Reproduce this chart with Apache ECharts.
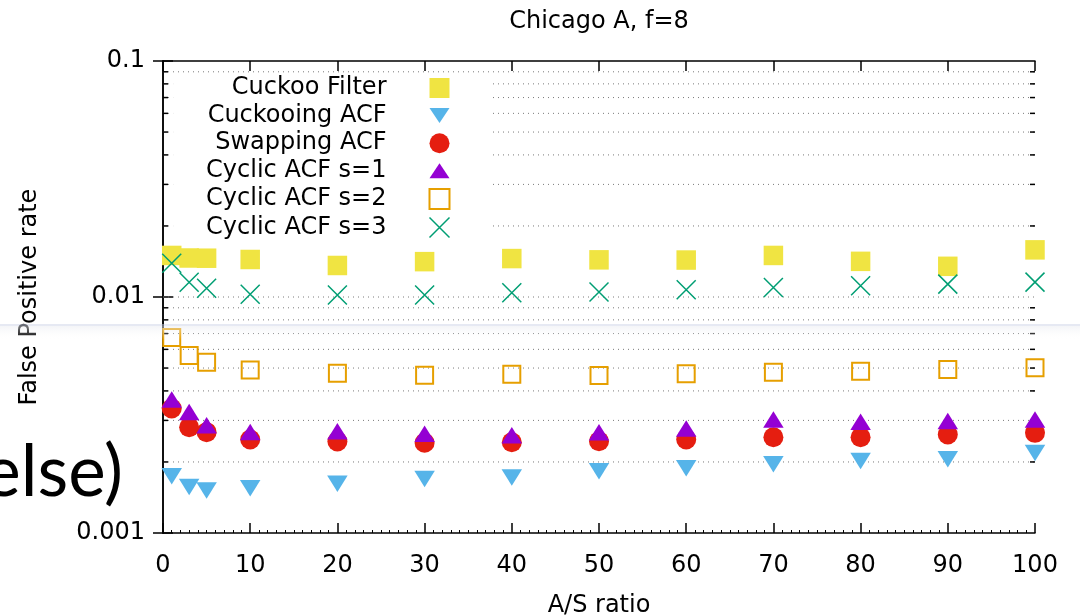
<!DOCTYPE html>
<html><head><meta charset="utf-8">
<script src="https://cdn.jsdelivr.net/npm/echarts@6/dist/echarts.min.js"></script>
<style>html,body{margin:0;padding:0;background:#fff}#c{width:1080px;height:616px}</style>
</head><body><div id="c"></div>
<script>
// ---- data ----
const xValues = [1, 3, 5, 10, 20, 30, 40, 50, 60, 70, 80, 90, 100];
const cuckooFilter = [0.0150, 0.01463, 0.0146, 0.01442, 0.0136, 0.01412, 0.01455, 0.01437, 0.01434, 0.0150, 0.01416, 0.01349, 0.01584];
const cuckooingACF = [0.001785, 0.001608, 0.001555, 0.001588, 0.001661, 0.001737, 0.001765, 0.001874, 0.001930, 0.002007, 0.002074, 0.002107, 0.002243];
const swappingACF = [0.003369, 0.002807, 0.002674, 0.002489, 0.002441, 0.002411, 0.002425, 0.002449, 0.002489, 0.002545, 0.002545, 0.002614, 0.002658];
const cyclicS1 = [0.003587, 0.003171, 0.002785, 0.002609, 0.002627, 0.002568, 0.002526, 0.002602, 0.002697, 0.002951, 0.002885, 0.002902, 0.002951];
const cyclicS2 = [0.00674, 0.00565, 0.00529, 0.0049, 0.00475, 0.00466, 0.00471, 0.00465, 0.00473, 0.0048, 0.00485, 0.00493, 0.00501];
const cyclicS3 = [0.0139, 0.01155, 0.01089, 0.01027, 0.0102, 0.0102, 0.01042, 0.0105, 0.01074, 0.01097, 0.01115, 0.01134, 0.01156];
const seriesNames = ['Cuckoo Filter', 'Cuckooing ACF', 'Swapping ACF', 'Cyclic ACF s=1', 'Cyclic ACF s=2', 'Cyclic ACF s=3'];
const yMinorTicks = [0.002, 0.003, 0.004, 0.005, 0.006, 0.007, 0.008, 0.009, 0.02, 0.03, 0.04, 0.05, 0.06, 0.07, 0.08, 0.09];
const yMajorGrid = [0.01];
const titleText = 'Chicago A, f=8';
const xName = 'A/S ratio';
const yName = 'False Positive rate';

// ---- styling ----
const FONT = 'DejaVu Sans';
const colors = ['#f0e442', '#56b4e9', '#e51e10', '#9400d3', '#e69f00', '#009e73'];
const X_PATH = 'path://M0,0L10,10M10,0L0,10';
const TRI_UP = 'path://M10,0L20,15L0,15Z';
const TRI_DOWN = 'path://M0,0L20,0L10,15Z';
const txt = {fontFamily: FONT, fontSize: 24, color: '#000'};

const pairs = arr => xValues.map((x, i) => [x, arr[i]]);
const gridData = yMinorTicks.map(v => [0, v, 1]).concat(yMajorGrid.map(v => [0, v, 0]));

const chart = echarts.init(document.getElementById('c'), null, {renderer: 'canvas'});
const axisLine = {show: true, lineStyle: {color: '#000', width: 1.5}};
const tick = {show: true, inside: true, length: 10, lineStyle: {color: '#000', width: 1.5}};

chart.setOption({
  animation: false,
  backgroundColor: '#fff',
  title: {text: titleText, left: 599, top: 10, textAlign: 'center', padding: 0,
    textStyle: {fontFamily: FONT, fontSize: 24, fontWeight: 'normal', color: '#000'}},
  grid: {left: 163, right: 45, top: 61, bottom: 83, containLabel: false, outerBoundsMode: 'none'},
  legend: {
    orient: 'vertical', align: 'right', right: 590, top: 74,
    padding: [2, 38, 5, 33], backgroundColor: '#fff',
    itemWidth: 20, itemHeight: 20, itemGap: 3.6, selectedMode: false,
    formatter: n => '{a|' + n + '}',
    textStyle: {rich: {a: {fontFamily: FONT, fontSize: 24, color: '#000', lineHeight: 20, padding: [0, 38, 0, 0]}}},
    data: [
      {name: seriesNames[0], icon: 'rect'},
      {name: seriesNames[1], icon: TRI_DOWN},
      {name: seriesNames[2], icon: 'circle'},
      {name: seriesNames[3], icon: TRI_UP},
      {name: seriesNames[4], icon: 'rect', itemStyle: {color: 'none', borderColor: colors[4], borderWidth: 2}},
      {name: seriesNames[5], icon: X_PATH, itemStyle: {color: 'none', borderColor: colors[5], borderWidth: 1.5}}
    ]
  },
  xAxis: [
    {type: 'value', min: 0, max: 100, interval: 10, position: 'bottom',
      axisLine: axisLine, axisTick: tick,
      minorTick: {show: true, splitNumber: 10, length: 3, lineStyle: {color: '#000', width: 1}},
      axisLabel: Object.assign({margin: 21}, txt), splitLine: {show: false},
      name: xName, nameLocation: 'middle', nameGap: 61, nameTextStyle: txt},
    {type: 'value', min: 0, max: 100, interval: 10, position: 'top',
      axisLine: axisLine, axisTick: tick, axisLabel: {show: false}, splitLine: {show: false}}
  ],
  yAxis: [
    {type: 'log', logBase: 10, min: 0.001, max: 0.1, position: 'left',
      axisLine: axisLine, axisTick: tick,
      axisLabel: Object.assign({margin: 18}, txt), splitLine: {show: false},
      name: yName, nameLocation: 'middle', nameGap: 121, nameRotate: 90, nameTextStyle: txt},
    {type: 'log', logBase: 10, min: 0.001, max: 0.1, position: 'right',
      axisLine: axisLine, axisTick: tick, axisLabel: {show: false}, splitLine: {show: false}}
  ],
  series: [
    {type: 'custom', name: 'grid', z: 1, silent: true, clip: false,
      encode: {x: 0, y: 1}, data: gridData,
      renderItem: (params, api) => {
        const v = api.value(1);
        const a = api.coord([0, v]);
        const b = api.coord([100, v]);
        const children = [{type: 'line', shape: {x1: a[0], y1: a[1], x2: b[0], y2: b[1]},
          style: {stroke: '#7a7a7a', lineWidth: 1, lineDash: [1, 4]}}];
        if (api.value(2) === 1) {
          children.push({type: 'line', shape: {x1: a[0], y1: a[1], x2: a[0] + 5, y2: a[1]}, style: {stroke: '#000', lineWidth: 1.5}});
          children.push({type: 'line', shape: {x1: b[0] - 5, y1: b[1], x2: b[0], y2: b[1]}, style: {stroke: '#000', lineWidth: 1.5}});
        }
        return {type: 'group', children: children};
      }},
    {type: 'scatter', name: seriesNames[0], z: 2, data: pairs(cuckooFilter),
      symbol: 'rect', symbolSize: 19.5, itemStyle: {color: colors[0], opacity: 1}},
    {type: 'scatter', name: seriesNames[1], z: 2, data: pairs(cuckooingACF),
      symbol: 'triangle', symbolRotate: 180, symbolSize: [20.5, 16.5], symbolOffset: [0, 2.7], itemStyle: {color: colors[1], opacity: 1}},
    {type: 'scatter', name: seriesNames[2], z: 2, data: pairs(swappingACF),
      symbol: 'circle', symbolSize: 20, itemStyle: {color: colors[2], opacity: 1}},
    {type: 'scatter', name: seriesNames[3], z: 2, data: pairs(cyclicS1),
      symbol: 'triangle', symbolSize: [20.5, 16.5], symbolOffset: [0, -2.7], itemStyle: {color: colors[3], opacity: 1}},
    {type: 'scatter', name: seriesNames[4], z: 2, data: pairs(cyclicS2),
      symbol: 'rect', symbolSize: 17, itemStyle: {color: 'none', borderColor: colors[4], borderWidth: 2, opacity: 1}},
    {type: 'scatter', name: seriesNames[5], z: 2, data: pairs(cyclicS3),
      symbol: X_PATH, symbolSize: 19, itemStyle: {color: 'none', borderColor: colors[5], borderWidth: 1.5, opacity: 1}}
  ],
  graphic: [
    {type: 'rect', z: 100, silent: true, shape: {x: 0, y: 324, width: 1080, height: 2}, style: {fill: 'rgba(205,212,232,0.5)'}},
    {type: 'rect', z: 100, silent: true, shape: {x: 0, y: 326, width: 1080, height: 14},
      style: {fill: new echarts.graphic.LinearGradient(0, 0, 0, 1, [{offset: 0, color: 'rgba(232,234,240,0.5)'}, {offset: 1, color: 'rgba(255,255,255,0)'}])}},
    {type: 'text', z: 100, silent: true, x: 123, y: 473,
      style: {text: 'else)', font: 'normal 71px Lato', fill: '#000', align: 'right', verticalAlign: 'middle'}}
  ]
});
</script></body></html>
